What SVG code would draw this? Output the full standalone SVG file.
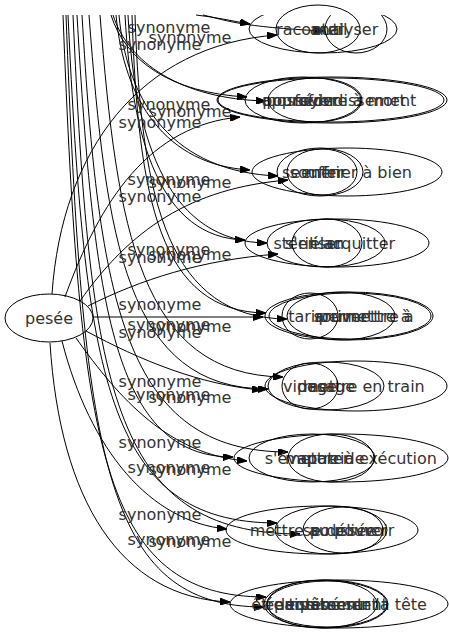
<svg xmlns="http://www.w3.org/2000/svg" width="449" height="635" viewBox="0 0 449 635">
<style>
.n ellipse{fill:none;stroke:#000;stroke-width:1}
text{font-family:"DejaVu Sans",sans-serif;font-size:16px;fill:#333;text-anchor:middle}
.e path{fill:none;stroke:#000;stroke-width:1;marker-end:url(#ah)}
</style>
<defs>
<marker id="ah" viewBox="0 0 10 7" refX="10" refY="3.5" markerWidth="10" markerHeight="7" markerUnits="userSpaceOnUse" orient="auto"><path d="M0,0 L10,3.5 L0,7 z" fill="#000" stroke="#000"/></marker>
<clipPath id="top"><rect x="0" y="15" width="449" height="620"/></clipPath>
</defs>
<rect width="449" height="635" fill="#fff"/>
<g id="edges" class="e">
<path d="M52,294 C62,150 140,45 277,35"/>
<path d="M65,297 C100,200 150,125 240,117"/>
<path d="M80,301 C130,230 190,188 288,180"/>
<path d="M88,306 C140,280 200,260 278,254"/>
<path d="M93,317 L263,317"/>
<path d="M86,331 C140,360 200,385 262,390"/>
<path d="M76,338 C120,400 170,455 247,461"/>
<path d="M62,341 C90,450 150,522 227,529"/>
<path d="M50,343 C60,500 120,598 230,602"/>
<path d="M196,15 C215,17 232,21 250,24"/>
<path d="M203,15 C225,20 240,27 324,31"/>
<path d="M111,15 C125,60 170,93 247,97"/>
<path d="M113,15 C128,62 180,99 266,101"/>
<path d="M116,15 C124,100 165,165 250,170"/>
<path d="M119,15 C127,105 175,172 278,176"/>
<path d="M125,15 C132,140 160,238 245,240"/>
<path d="M128,15 C135,145 170,242 267,243"/>
<path d="M132,15 C138,200 160,312 266,313"/>
<path d="M135,15 C141,205 170,318 287,319"/>
<path d="M89,15 C106,240 126,389 268,389"/>
<path d="M100,15 C117,230 140,375 283,377"/>
<path d="M77,15 C94,307 114,457 233,457"/>
<path d="M82,15 C99,302 124,452 288,452"/>
<path d="M68,15 C85,373 105,523 277,523"/>
<path d="M73,15 C90,384 110,534 300,534"/>
<path d="M63,15 C80,447 100,597 266,597"/>
<path d="M66,15 C83,457 103,607 264,607"/>
</g>
<g id="edge-labels">
<text x="169" y="33">synonyme</text><text x="190" y="43">synonyme</text><text x="160" y="50">synonyme</text>
<text x="169" y="110">synonyme</text><text x="190" y="117">synonyme</text><text x="160" y="128">synonyme</text>
<text x="169" y="185">synonyme</text><text x="190" y="188">synonyme</text><text x="160" y="202">synonyme</text>
<text x="169" y="255">synonyme</text><text x="190" y="260">synonyme</text><text x="160" y="263">synonyme</text>
<text x="160" y="310">synonyme</text><text x="169" y="330">synonyme</text><text x="190" y="332">synonyme</text><text x="160" y="338">synonyme</text>
<text x="160" y="387">synonyme</text><text x="169" y="400">synonyme</text><text x="190" y="403">synonyme</text>
<text x="160" y="448">synonyme</text><text x="169" y="473">synonyme</text><text x="190" y="475">synonyme</text>
<text x="160" y="520">synonyme</text><text x="169" y="545">synonyme</text><text x="190" y="547">synonyme</text>
</g>
<g id="pesee" class="n"><ellipse cx="49" cy="318" rx="44" ry="24"/><text x="49" y="324">pesée</text></g>
<g id="r1a" class="n"><ellipse cx="323" cy="29" rx="74" ry="24" clip-path="url(#top)"/><text x="310" y="35">raconter</text></g>
<g id="r1b" class="n"><ellipse cx="318" cy="29" rx="42" ry="24"/><text x="330" y="35">outil</text></g>
<g id="r1c" class="n"><ellipse cx="356" cy="29" rx="31" ry="24" clip-path="url(#top)"/><text x="344" y="35">analyser</text></g>
<g id="r2a" class="n"><ellipse cx="332" cy="100" rx="115" ry="23"/><text x="339" y="106">approfondissement</text></g>
<g id="r2b" class="n"><ellipse cx="331" cy="100" rx="113" ry="22"/><text x="334" y="106">poursuivre à mort</text></g>
<g id="r2c" class="n"><ellipse cx="303" cy="100" rx="58" ry="23"/><text x="303" y="106">posséder</text></g>
<g id="r2d" class="n"><ellipse cx="315" cy="100" rx="47" ry="22"/><text x="315" y="106">foyer</text></g>
<g id="r3a" class="n"><ellipse cx="347" cy="172" rx="95" ry="24"/><text x="347" y="178">se mener à bien</text></g>
<g id="r3b" class="n"><ellipse cx="320" cy="172" rx="43" ry="24"/><text x="318" y="178">souffrir</text></g>
<g id="r3c" class="n"><ellipse cx="322" cy="172" rx="35" ry="23"/><text x="322" y="178">enfer</text></g>
<g id="r4a" class="n"><ellipse cx="337" cy="243" rx="92" ry="24"/><text x="340" y="249">s'en acquitter</text></g>
<g id="r4b" class="n"><ellipse cx="326" cy="243" rx="59" ry="24"/><text x="308" y="249">stériliser</text></g>
<g id="r4c" class="n"><ellipse cx="327" cy="243" rx="35" ry="24"/><text x="327" y="249">élan</text></g>
<g id="r5a" class="n"><ellipse cx="349" cy="316" rx="84" ry="24"/><text x="362" y="322">soumettre à</text></g>
<g id="r5b" class="n"><ellipse cx="350" cy="316" rx="81" ry="23"/><text x="366" y="322">permettre à</text></g>
<g id="r5c" class="n"><ellipse cx="310" cy="316" rx="28" ry="23"/><text x="305" y="322">tarir</text></g>
<g id="r5d" class="n"><ellipse cx="341" cy="316" rx="54" ry="24"/><text x="341" y="322">arriver</text></g>
<g id="r6a" class="n"><ellipse cx="356" cy="386" rx="91" ry="25"/><text x="364" y="392">mettre en train</text></g>
<g id="r6b" class="n"><ellipse cx="326" cy="386" rx="58" ry="24"/><text x="326" y="392">pesage</text></g>
<g id="r6c" class="n"><ellipse cx="310" cy="386" rx="28" ry="23"/><text x="310" y="392">vidage</text></g>
<g id="r7a" class="n"><ellipse cx="341" cy="458" rx="107" ry="24"/><text x="361" y="464">mettre à exécution</text></g>
<g id="r7b" class="n"><ellipse cx="312" cy="458" rx="63" ry="24"/><text x="307" y="464">s'évaporer</text></g>
<g id="r7c" class="n"><ellipse cx="331" cy="458" rx="43" ry="24"/><text x="331" y="464">apatride</text></g>
<g id="r8a" class="n"><ellipse cx="322" cy="530" rx="96" ry="24"/><text x="322" y="536">mettre au pouvoir</text></g>
<g id="r8b" class="n"><ellipse cx="331" cy="530" rx="56" ry="24"/><text x="345" y="536">se délivrer</text></g>
<g id="r8c" class="n"><ellipse cx="343" cy="530" rx="40" ry="23"/><text x="343" y="536">poussée</text></g>
<g id="r9a" class="n"><ellipse cx="339" cy="604" rx="109" ry="24"/><text x="339" y="610">être tombé sur la tête</text></g>
<g id="r9b" class="n"><ellipse cx="326" cy="604" rx="62" ry="24"/><text x="326" y="610">empâtement</text></g>
<g id="r9c" class="n"><ellipse cx="327" cy="604" rx="60" ry="23"/><text x="326" y="610">épaississement</text></g>
<g id="r9d" class="n"><ellipse cx="322" cy="604" rx="55" ry="24"/><text x="322" y="610">lentement</text></g>
</svg>
